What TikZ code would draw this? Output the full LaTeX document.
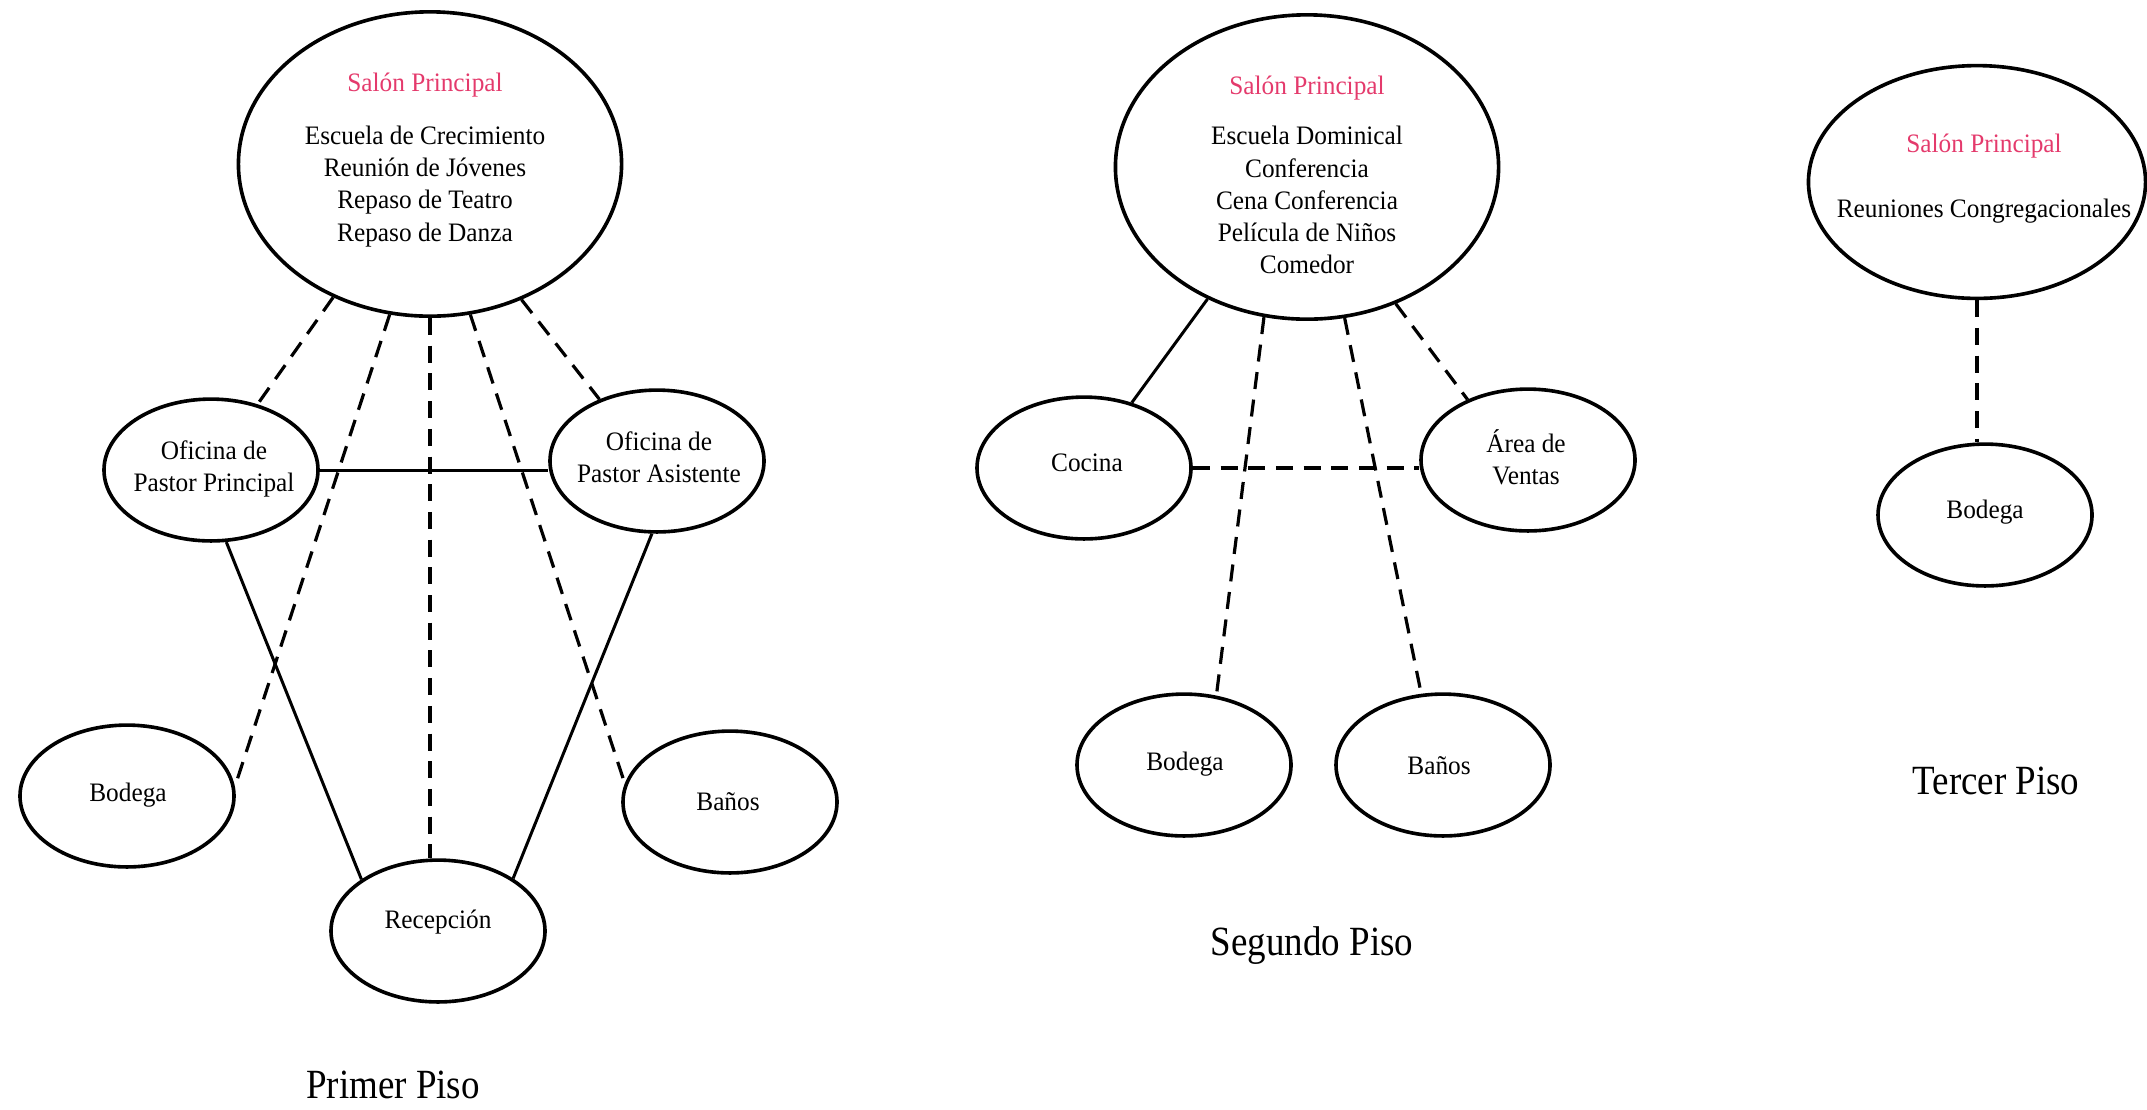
\documentclass[tikz,border=0pt]{standalone}
\usepackage{fontspec}
\setmainfont{Liberation Serif}[FakeStretch=0.95]
\newfontfamily\pisofont{Liberation Serif}[FakeStretch=0.89]
\usetikzlibrary{shapes.geometric}
\definecolor{salonpink}{RGB}{228,58,108}

\begin{document}
\begin{tikzpicture}[x=0.0165cm, y=-0.0165cm,
    room/.style={ellipse, draw, line width=1.7pt, minimum width=3.53cm, minimum height=2.34cm, inner sep=0pt},
    hall/.style={room, minimum width=6.32cm, minimum height=5.02cm},
    rtxt/.style={align=center, inner sep=0pt, font=\fontsize{12.5}{15.1}\selectfont},
    ptxt/.style={inner sep=0pt, font=\pisofont\fontsize{19.5}{23}\selectfont},
    sld/.style={line width=1.4pt},
    dsh/.style={line width=1.5pt, dash pattern=on 8pt off 5pt}
  ]
  \useasboundingbox (0,0) rectangle (2147,1109);

  % primer piso
  \node[hall] (s1) at (430,164) {};
  \node[rtxt] (s1t) at (425,160) {\textcolor{salonpink}{Salón Principal}\\[0.34cm]Escuela de Crecimiento\\Reunión de Jóvenes\\Repaso de Teatro\\Repaso de Danza};
  \node[room] (opp) at (211,470) {};
  \node[rtxt] (oppt) at (214,469) {Oficina de\\Pastor Principal};
  \node[room] (opa) at (657,461) {};
  \node[rtxt] (opat) at (659,457) {Oficina de\\Pastor Asistente};
  \node[room] (b1) at (127,796) {};
  \node[rtxt] (b1t) at (128,795) {Bodega};
  \node[room] (ba1) at (730,802) {};
  \node[rtxt] (ba1t) at (728,802) {Baños};
  \node[room] (r1) at (438,931) {};
  \node[rtxt] (r1t) at (438,922) {Recepción};
  \node[ptxt] (p1) at (393,1085) {Primer Piso};
  \foreach \a/\t in {234/opp, 255/b1.5, 285/ba1.170, 304/opa.133}
    \draw[dsh] (s1.\a) -- (\t);
  \draw[dsh] (s1.south) -- (s1.south |- r1.north);
  \draw[sld] (opp.east) -- (opp.east -| opa.west);
  \draw[sld] (opp.282) -- (r1.146);
  \draw[sld] (opa.266) -- (r1.35);

  % segundo piso
  \node[hall] (s2) at (1307,167) {};
  \node[rtxt] (s2t) at (1307,175) {\textcolor{salonpink}{Salón Principal}\\[0.30cm]Escuela Dominical\\Conferencia\\Cena Conferencia\\Película de Niños\\Comedor};
  \node[room] (coc) at (1084,468) {};
  \node[rtxt] (coct) at (1087,463) {Cocina};
  \node[room] (av) at (1528,460) {};
  \node[rtxt] (avt) at (1526,457) {Área de\\Ventas};
  \node[room] (b2) at (1184,765) {};
  \node[rtxt] (b2t) at (1185,764) {Bodega};
  \node[room] (ba2) at (1443,765) {};
  \node[rtxt] (ba2t) at (1439,766) {Baños};
  \node[ptxt] (p2) at (1312,946) {Segundo Piso};
  \draw[sld] (s2.233) -- (coc);
  \foreach \a/\t in {254/b2.65, 284/ba2.107, 303/av.135}
    \draw[dsh] (s2.\a) -- (\t);
  \draw[dsh] (coc.east) -- (coc.east -| av.west);

  % tercer piso
  \node[room, minimum width=5.56cm, minimum height=3.84cm] (s3) at (1977,182) {};
  \node[rtxt] (s3t) at (1984,179) {\textcolor{salonpink}{Salón Principal}\\[0.54cm]Reuniones Congregacionales};
  \node[room] (b3) at (1985,515) {};
  \node[rtxt] (b3t) at (1985,512) {Bodega};
  \node[ptxt] (p3) at (1996,781) {Tercer Piso};
  \draw[dsh] (s3.south) -- (s3.south |- b3.north);
\end{tikzpicture}
\end{document}
